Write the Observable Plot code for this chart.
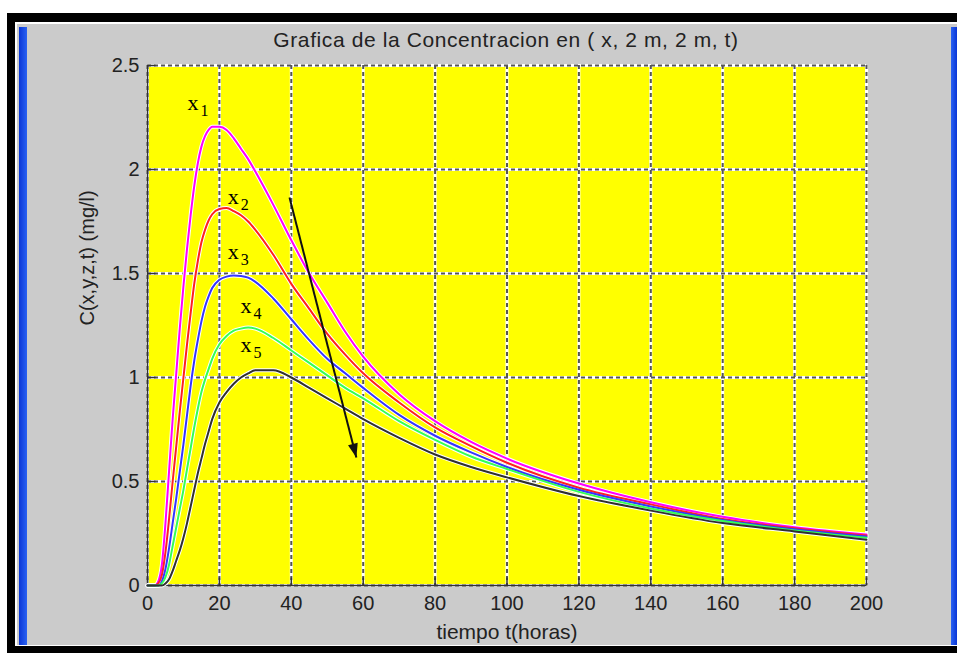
<!DOCTYPE html>
<html><head><meta charset="utf-8">
<script src="https://cdn.jsdelivr.net/npm/d3@7"></script>
<script src="https://cdn.jsdelivr.net/npm/@observablehq/plot@0.6"></script>
<style>
html,body{margin:0;padding:0;background:#fff;width:957px;height:653px;overflow:hidden;position:relative;}
#frame{position:absolute;left:7px;top:13px;width:950px;height:640px;background:#000;}
#hl{position:absolute;left:15px;top:22px;width:942px;height:624px;background:#fff;}
#panel{position:absolute;left:17px;top:24px;width:940px;height:621px;background:#cbcbcb;}
#bl{position:absolute;left:19px;top:27px;width:8px;height:618px;background:linear-gradient(to right,#0a36d6,#2a62f2);}
#br{position:absolute;left:951px;top:27px;width:6px;height:618px;background:linear-gradient(to right,#2a62f2,#0a36d6);}
#title{position:absolute;left:0;width:1012px;top:28px;text-align:center;font:21px "Liberation Sans",Arial,sans-serif;letter-spacing:0.6px;color:#222;}
#chart{position:absolute;left:0;top:0;}
</style></head>
<body>
<div id="frame"></div><div id="hl"></div><div id="panel"></div><div id="bl"></div><div id="br"></div>
<div id="title"></div>
<div id="chart"></div>
<script>
const titleText = "Grafica de la Concentracion en ( x, 2 m, 2 m, t)";
const xLabel = "tiempo t(horas)";
const yLabel = "C(x,y,z,t) (mg/l)";
const xTicks = [0, 20, 40, 60, 80, 100, 120, 140, 160, 180, 200];
const yTicks = [0, 0.5, 1, 1.5, 2, 2.5];

const times = [0, 2, 3, 4, 5, 6, 7, 8, 9, 10, 11, 12, 13, 14, 15, 16, 17, 18, 20, 22, 24, 26, 28, 30, 35, 40, 45, 50, 55, 60, 70, 80, 90, 100, 120, 140, 160, 180, 200];
const cMagenta = [0, 0, 0.02, 0.1, 0.3, 0.55, 0.8, 1.02, 1.24, 1.44, 1.62, 1.78, 1.92, 2.03, 2.11, 2.16, 2.19, 2.205, 2.205, 2.19, 2.15, 2.1, 2.05, 1.99, 1.83, 1.66, 1.5, 1.36, 1.22, 1.1, 0.92, 0.79, 0.69, 0.61, 0.49, 0.4, 0.33, 0.28, 0.245];
const cRed = [0, 0, 0.01, 0.05, 0.16, 0.32, 0.5, 0.67, 0.84, 1.0, 1.16, 1.31, 1.45, 1.56, 1.65, 1.71, 1.755, 1.785, 1.81, 1.815, 1.8, 1.78, 1.75, 1.71, 1.59, 1.45, 1.33, 1.21, 1.11, 1.02, 0.88, 0.76, 0.67, 0.59, 0.47, 0.39, 0.32, 0.275, 0.24];
const cBlue = [0, 0, 0, 0.02, 0.08, 0.18, 0.3, 0.42, 0.55, 0.68, 0.82, 0.96, 1.08, 1.18, 1.27, 1.34, 1.39, 1.43, 1.47, 1.485, 1.49, 1.488, 1.48, 1.46, 1.38, 1.28, 1.18, 1.09, 1.02, 0.95, 0.82, 0.72, 0.64, 0.57, 0.46, 0.38, 0.315, 0.27, 0.235];
const cGreen = [0, 0, 0, 0.01, 0.04, 0.1, 0.19, 0.28, 0.37, 0.46, 0.56, 0.66, 0.76, 0.85, 0.93, 0.99, 1.04, 1.09, 1.16, 1.2, 1.225, 1.235, 1.24, 1.235, 1.19, 1.13, 1.07, 1.01, 0.95, 0.9, 0.79, 0.7, 0.62, 0.56, 0.45, 0.37, 0.31, 0.265, 0.23];
const cBlack = [0, 0, 0, 0, 0.01, 0.03, 0.07, 0.12, 0.17, 0.23, 0.3, 0.38, 0.46, 0.54, 0.61, 0.68, 0.74, 0.8, 0.88, 0.93, 0.97, 1.0, 1.02, 1.035, 1.035, 1.0, 0.95, 0.9, 0.85, 0.8, 0.71, 0.63, 0.57, 0.52, 0.43, 0.36, 0.3, 0.26, 0.22];

const seriesNames = ["x1", "x2", "x3", "x4", "x5"];
const seriesValues = [cMagenta, cRed, cBlue, cGreen, cBlack];
const seriesColors = ["#ff00ff", "#ff2020", "#3535ff", "#33ff55", "#303030"];

const labelT = [11.1, 22.3, 22.3, 25.9, 25.9];
const labelV = [2.284, 1.832, 1.572, 1.308, 1.125];
const labelSub = ["1", "2", "3", "4", "5"];

const arrowFrom = {t: 39.5, v: 1.865};
const arrowTo = {t: 58.1, v: 0.615};

document.getElementById("title").textContent = titleText;

const rows = [];
seriesNames.forEach((name, i) => times.forEach((t, j) => rows.push({series: name, color: seriesColors[i], t, v: seriesValues[i][j]})));
const labels = labelSub.map((s, i) => ({t: labelT[i], v: labelV[i], sub: s}));

const tickUp = {draw(ctx) { ctx.moveTo(0, 0); ctx.lineTo(0, -8); }};
const tickRight = {draw(ctx) { ctx.moveTo(0, 0); ctx.lineTo(8, 0); }};
const head = {draw(ctx) { ctx.moveTo(0, 0); ctx.lineTo(-5, -14); ctx.lineTo(5, -14); ctx.closePath(); }};
const fmt = d => String(d);

const plot = Plot.plot({
  width: 957, height: 653,
  marginLeft: 147, marginRight: 91, marginTop: 65, marginBottom: 68,
  style: {background: "transparent", fontSize: "20px", fontFamily: "'Liberation Sans', Arial, sans-serif", color: "#222", overflow: "visible"},
  x: {domain: [0, 200], ticks: xTicks, tickSize: 0, tickPadding: 10, tickFormat: fmt, label: null},
  y: {domain: [0, 2.5], ticks: yTicks, tickSize: 0, tickPadding: 8, tickFormat: fmt, label: null},
  color: {type: "identity"},
  marks: [
    Plot.frame({fill: "#ffff00", stroke: "none"}),
    Plot.ruleX(xTicks, {stroke: "#fff", strokeWidth: 3}),
    Plot.ruleY(yTicks, {stroke: "#fff", strokeWidth: 3}),
    Plot.ruleX(xTicks, {stroke: "#555", strokeWidth: 2, strokeDasharray: "4,3"}),
    Plot.ruleY(yTicks, {stroke: "#555", strokeWidth: 2, strokeDasharray: "4,3"}),
    Plot.ruleX([0], {stroke: "#333", strokeWidth: 1.5}),
    Plot.ruleY([0], {stroke: "#333", strokeWidth: 1.5}),
    Plot.dot(xTicks, {x: d => d, y: () => 0, symbol: tickUp, stroke: "#333", fill: "none", strokeWidth: 1.5}),
    Plot.dot(yTicks, {x: () => 0, y: d => d, symbol: tickRight, stroke: "#333", fill: "none", strokeWidth: 1.5}),
    Plot.line(rows, {x: "t", y: "v", z: "series", stroke: "#fff", strokeWidth: 4, curve: "monotone-x"}),
    Plot.line(rows, {x: "t", y: "v", z: "series", stroke: "color", strokeWidth: 2, curve: "monotone-x"}),
    Plot.link([arrowFrom], {x1: "t", y1: "v", x2: () => arrowTo.t, y2: () => arrowTo.v, stroke: "#111", strokeWidth: 2}),
    Plot.dot([arrowTo], {x: "t", y: "v", symbol: head, fill: "#111", stroke: "none", rotate: -14.5}),
    Plot.text(labels, {x: "t", y: "v", text: () => "x", textAnchor: "start", lineAnchor: "bottom", fontFamily: "'Liberation Serif', 'Times New Roman', serif", fontSize: 22, fill: "#000"}),
    Plot.text(labels, {x: "t", y: "v", text: "sub", textAnchor: "start", lineAnchor: "bottom", dx: 13, dy: 6, fontFamily: "'Liberation Serif', 'Times New Roman', serif", fontSize: 16, fill: "#000"}),
    Plot.text([xLabel], {text: d => d, frameAnchor: "bottom", lineAnchor: "middle", dy: 47, fontSize: 21, letterSpacing: "0.6px", fill: "#222"}),
    Plot.text([yLabel], {text: d => d, frameAnchor: "left", lineAnchor: "middle", rotate: -90, dx: -60, fontSize: 20, fill: "#222"})
  ]
});
document.getElementById("chart").appendChild(plot);
</script>
</body></html>
